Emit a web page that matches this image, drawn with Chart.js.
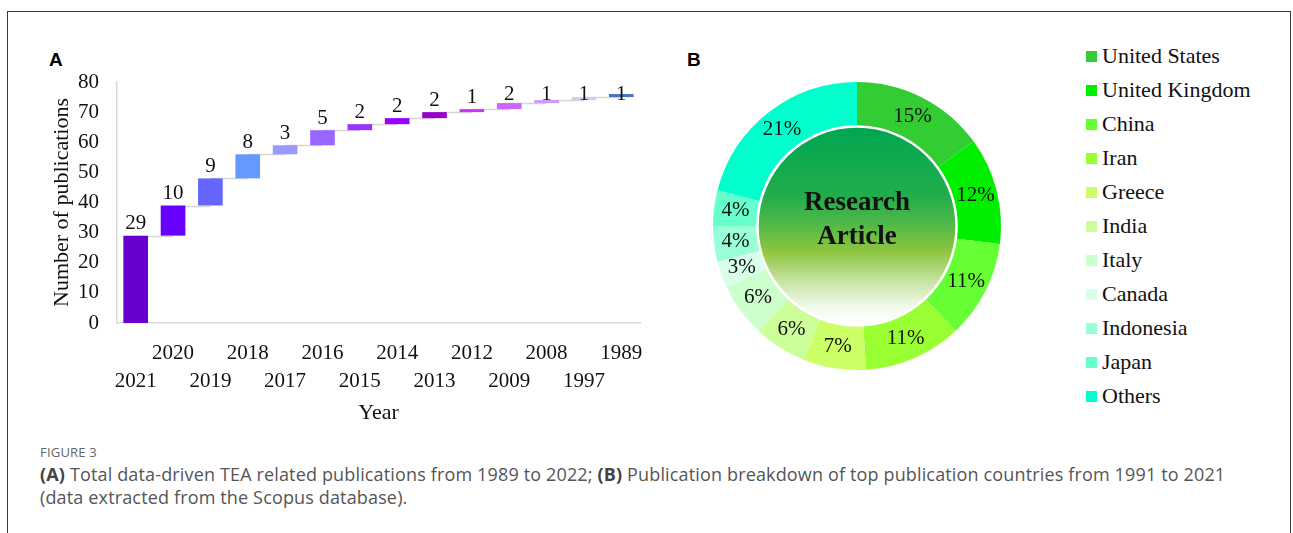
<!DOCTYPE html>
<html>
<head>
<meta charset="utf-8">
<script src="https://cdn.jsdelivr.net/npm/chart.js@4/dist/chart.umd.min.js"></script>
<style>
  html, body { margin: 0; padding: 0; background: #fff; }
  body { width: 1293px; height: 533px; position: relative; overflow: hidden; }
  .frame { position: absolute; left: 7px; top: 11px; width: 1284px; height: 560px;
           border: 1px solid #3a3a3a; box-sizing: border-box; }
  .panel-tag { position: absolute; font: bold 19px "Liberation Sans", Arial, sans-serif; color: #000; }
  #wfWrap { position: absolute; left: 0; top: 0; width: 680px; height: 440px; }
  #pieWrap { position: absolute; left: 707px; top: 76px; width: 300px; height: 300px; }
  #legend { position: absolute; left: 1086px; top: 39px; margin: 0; padding: 0; list-style: none; }
  #legend li { height: 34px; display: flex; align-items: center;
               font: 22px "Liberation Serif", "Times New Roman", serif; color: #111; }
  #legend li span.box { width: 11px; height: 11px; margin-right: 5px; display: inline-block; }
  .caption { position: absolute; left: 40px; font-family: "Open Sans", sans-serif; color: #555; }
  .caption.head { top: 443px; font-size: 13px; letter-spacing: 0.2px; color: #666; }
  .caption.body { top: 463px; font-size: 18px; letter-spacing: 0.15px; line-height: 23px; width: 1240px; }
  .caption b { font-weight: 700; color: #444; }
</style>
</head>
<body>
<div class="frame"></div>
<div class="panel-tag" style="left:49px; top:49px;">A</div>
<div class="panel-tag" style="left:687px; top:49px;">B</div>

<div id="wfWrap"><canvas id="wf" width="680" height="440"></canvas></div>
<div id="pieWrap"><canvas id="pie" width="300" height="300"></canvas></div>
<ul id="legend"></ul>

<div class="caption head">FIGURE 3</div>
<div class="caption body"><b>(A)</b> Total data-driven TEA related publications from 1989 to 2022; <b>(B)</b> Publication breakdown of top publication countries from 1991 to 2021<br>(data extracted from the Scopus database).</div>

<script>
// ---- Panel A: yearly publications, shown as a waterfall ----
const years = ['2021', '2020', '2019', '2018', '2017', '2016', '2015', '2014', '2013', '2012', '2009', '2008', '1997', '1989'];
const publications = [29, 10, 9, 8, 3, 5, 2, 2, 2, 1, 2, 1, 1, 1];
const barColors = ['#6600CC', '#6600FF', '#6666FF', '#6699FF', '#9999FF', '#9966FF', '#9933FF',
                   '#9900FF', '#9900CC', '#CC33FF', '#CC66FF', '#CC99FF', '#CCCCFF', '#4472C4'];
const yTicks = [0, 10, 20, 30, 40, 50, 60, 70, 80];

// ---- Panel B: share of publications by country ----
const countries = ['United States', 'United Kingdom', 'China', 'Iran', 'Greece', 'India',
                   'Italy', 'Canada', 'Indonesia', 'Japan', 'Others'];
const shares = [15, 12, 11, 11, 7, 6, 6, 3, 4, 4, 21];
const sliceColors = ['#33CC33', '#00EE00', '#66FF33', '#99FF33', '#CCFF66', '#CCFF99',
                     '#CCFFCC', '#D9FFEA', '#99FFD6', '#66FFCC', '#00FFCC'];

const SERIF = '"Liberation Serif", "Times New Roman", serif';

// running totals: each bar floats from the previous total to the new one
const floating = [];
let running = 0;
publications.forEach(v => { floating.push([running, running + v]); running += v; });

// grey connectors between consecutive bars
const connectorPlugin = {
  id: 'connectors',
  beforeDatasetsDraw(chart) {
    const meta = chart.getDatasetMeta(0);
    const ys = chart.scales.y;
    const ctx = chart.ctx;
    ctx.save();
    ctx.strokeStyle = '#d6d6d6';
    ctx.lineWidth = 1.5;
    for (let i = 0; i < meta.data.length - 1; i++) {
      const y = Math.round(ys.getPixelForValue(floating[i][1])) + 0.5;
      ctx.beginPath();
      ctx.moveTo(meta.data[i].x, y);
      ctx.lineTo(meta.data[i + 1].x, y);
      ctx.stroke();
    }
    ctx.restore();
  }
};

// value labels above the bars, kept inside the plot area
const barLabelPlugin = {
  id: 'barLabels',
  afterDatasetsDraw(chart) {
    const meta = chart.getDatasetMeta(0);
    const ctx = chart.ctx;
    const top = chart.chartArea.top;
    ctx.save();
    ctx.font = '21px ' + SERIF;
    ctx.fillStyle = '#111';
    ctx.textAlign = 'center';
    ctx.textBaseline = 'middle';
    meta.data.forEach((bar, i) => {
      const y = Math.max(bar.y - 12, top + 12);
      ctx.fillText(String(publications[i]), bar.x, y);
    });
    ctx.restore();
  }
};

new Chart(document.getElementById('wf'), {
  type: 'bar',
  data: {
    // alternate labels between two rows so they do not collide
    labels: years.map((y, i) => i % 2 === 0 ? ['', y] : [y]),
    datasets: [{
      data: floating,
      backgroundColor: barColors,
      borderWidth: 0,
      barPercentage: 0.66,
      categoryPercentage: 1
    }]
  },
  options: {
    responsive: false,
    animation: false,
    layout: { padding: { left: 40, top: 82, right: 40, bottom: 0 } },
    plugins: { legend: { display: false }, tooltip: { enabled: false } },
    scales: {
      x: {
        grid: { display: false },
        border: { color: '#d9d9d9', width: 1.5 },
        ticks: {
          autoSkip: false, maxRotation: 0, minRotation: 0, padding: 9,
          color: '#111', font: { family: SERIF, size: 21, lineHeight: 1.32 }
        },
        title: {
          display: true, text: 'Year', color: '#111',
          font: { family: SERIF, size: 22 }, padding: { top: 0, bottom: 14 }
        },
        afterFit(s) { s.height = 117; }
      },
      y: {
        min: 0, max: 80,
        grid: { display: false },
        border: { color: '#d9d9d9', width: 1.5 },
        afterBuildTicks(s) { s.ticks = yTicks.map(v => ({ value: v })); },
        ticks: { padding: 10, color: '#111', font: { family: SERIF, size: 21 } },
        title: {
          display: true, text: 'Number of publications', color: '#111',
          font: { family: SERIF, size: 22 }, padding: { top: 9, bottom: 0 }
        },
        afterFit(s) { s.width = 77; }
      }
    }
  },
  plugins: [connectorPlugin, barLabelPlugin]
});

// shaded centre disc with its caption
const centrePlugin = {
  id: 'centreDisc',
  beforeDatasetsDraw(chart) {
    const arc = chart.getDatasetMeta(0).data[0];
    const ctx = chart.ctx;
    const cx = arc.x, cy = arc.y, r = arc.innerRadius - 2.5;
    const g = ctx.createLinearGradient(0, cy - r, 0, cy + r);
    g.addColorStop(0, '#00A651');
    g.addColorStop(0.35, '#22AD4C');
    g.addColorStop(0.5, '#55B947');
    g.addColorStop(0.63, '#8DC63F');
    g.addColorStop(0.78, '#C6E3A3');
    g.addColorStop(0.92, '#F5FBF0');
    g.addColorStop(1, '#FFFFFF');
    ctx.save();
    ctx.beginPath();
    ctx.arc(cx, cy, r, 0, Math.PI * 2);
    ctx.fillStyle = g;
    ctx.fill();
    ctx.font = 'bold 27px ' + SERIF;
    ctx.fillStyle = '#111';
    ctx.textAlign = 'center';
    ctx.textBaseline = 'middle';
    ctx.fillText('Research', cx, cy - 23);
    ctx.fillText('Article', cx, cy + 11);
    ctx.restore();
  },
  afterDatasetsDraw(chart) {
    const meta = chart.getDatasetMeta(0);
    const ctx = chart.ctx;
    ctx.save();
    ctx.font = '21px ' + SERIF;
    ctx.fillStyle = '#111';
    ctx.textAlign = 'center';
    ctx.textBaseline = 'middle';
    meta.data.forEach((a, i) => {
      const p = a.tooltipPosition();
      ctx.fillText(shares[i] + '%', p.x, p.y);
    });
    ctx.restore();
  }
};

new Chart(document.getElementById('pie'), {
  type: 'doughnut',
  data: {
    labels: countries,
    datasets: [{ data: shares, backgroundColor: sliceColors, borderWidth: 0, hoverOffset: 0 }]
  },
  options: {
    responsive: false,
    animation: false,
    radius: 144,
    cutout: 105,
    layout: { padding: 0 },
    plugins: { legend: { display: false }, tooltip: { enabled: false } }
  },
  plugins: [centrePlugin]
});

// legend list built from the same arrays
const legend = document.getElementById('legend');
countries.forEach((c, i) => {
  const li = document.createElement('li');
  const box = document.createElement('span');
  box.className = 'box';
  box.style.background = sliceColors[i];
  li.appendChild(box);
  li.appendChild(document.createTextNode(c));
  legend.appendChild(li);
});
</script>
</body>
</html>
